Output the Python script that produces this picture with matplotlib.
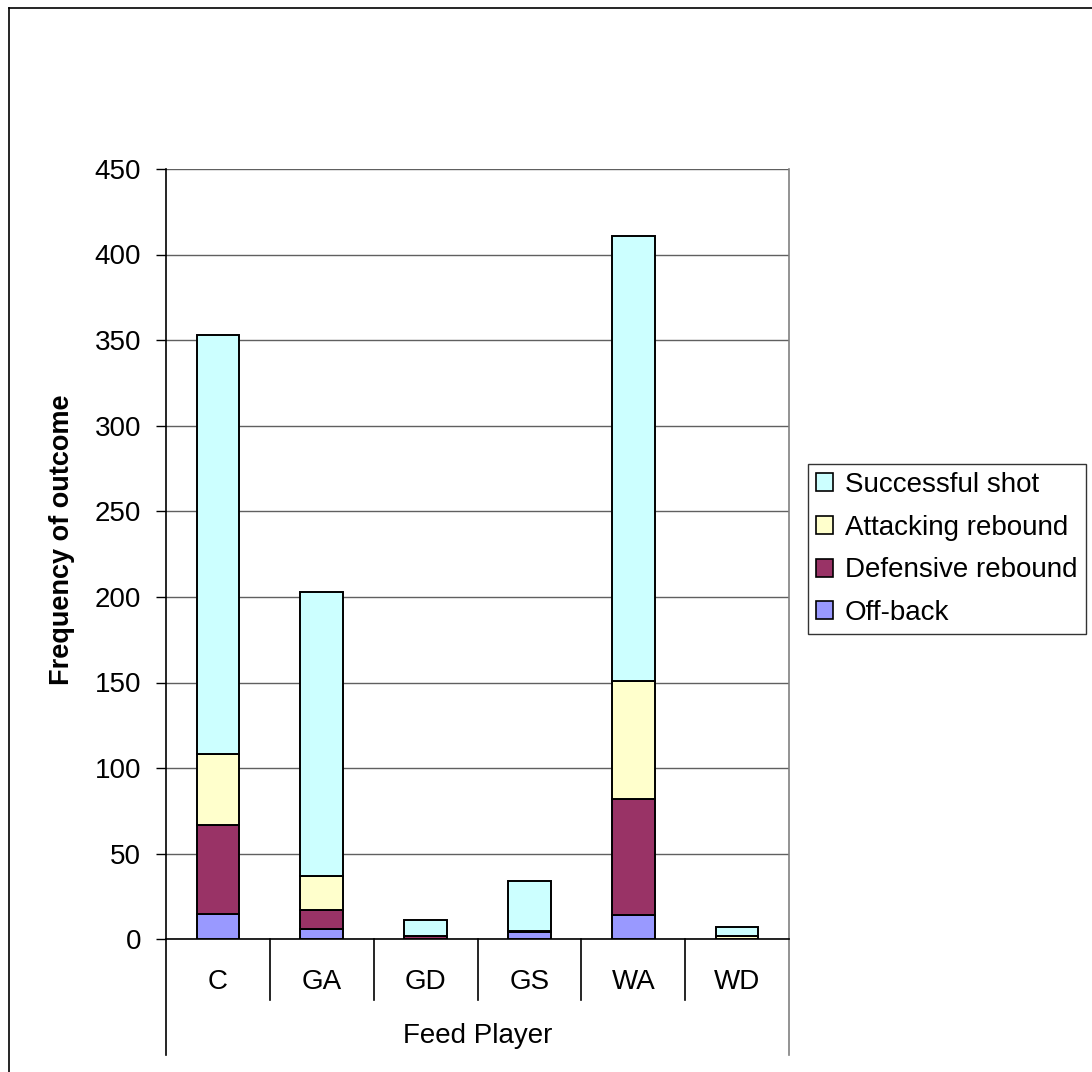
import matplotlib
matplotlib.use("Agg")
import matplotlib.pyplot as plt
from matplotlib.patches import Patch
from matplotlib.lines import Line2D
import numpy as np

plt.rcParams['font.family'] = ['Liberation Sans', 'DejaVu Sans']

# Outcome counts per feed player
players = ["C", "GA", "GD", "GS", "WA", "WD"]
off_back = [15, 6, 0, 4, 14, 0]
defensive_rebound = [52, 11, 2, 1, 68, 0]
attacking_rebound = [41, 20, 0, 0, 69, 2]
successful_shot = [245, 166, 9, 29, 260, 5]

series = [
    ("Off-back", off_back, "#9999FF"),
    ("Defensive rebound", defensive_rebound, "#993366"),
    ("Attacking rebound", attacking_rebound, "#FFFFCC"),
    ("Successful shot", successful_shot, "#CCFFFF"),
]

W, H = 1092, 1072
fig = plt.figure(figsize=(W / 100, H / 100), dpi=100)
ax = fig.add_axes([166 / W, 1 - 939.3 / H, (789 - 166) / W, (939.3 - 168.9) / H])

x = np.arange(len(players))
bottom = np.zeros(len(players))
for name, vals, color in series:
    ax.bar(x, vals, width=0.41, bottom=bottom, color=color,
           edgecolor="black", linewidth=1.4, zorder=3)
    bottom += np.array(vals)

ax.set_xlim(-0.5, len(players) - 0.5)
ax.set_ylim(0, 450)
ax.set_yticks(range(0, 451, 50))
ax.yaxis.grid(True, color="#606060", linewidth=1.0)
ax.set_axisbelow(True)
ax.tick_params(axis="y", direction="out", length=7, width=1, pad=11,
               labelsize=20, colors="black")
ax.set_xticks([])

ax.spines["top"].set_visible(False)
ax.spines["right"].set_color("#808080")
ax.spines["right"].set_linewidth(1.2)
ax.spines["left"].set_color("black")
ax.spines["left"].set_linewidth(1.2)
ax.spines["bottom"].set_color("black")
ax.spines["bottom"].set_linewidth(1.2)

ax.set_ylabel("Frequency of outcome", fontsize=19.5, fontweight="bold")
ax.yaxis.set_label_coords(-0.146, 0.518)

# two-level category axis below the plot
trans = ax.get_xaxis_transform()
for k in range(1, len(players)):
    ax.add_line(Line2D([k - 0.5, k - 0.5], [0, -0.0788], transform=trans,
                       color="black", linewidth=1.2, clip_on=False))
ax.add_line(Line2D([-0.5, -0.5], [0, -0.1502], transform=trans,
                   color="black", linewidth=1.2, clip_on=False))
ax.add_line(Line2D([len(players) - 0.5] * 2, [0, -0.1502], transform=trans,
                   color="#808080", linewidth=1.2, clip_on=False))
for i, p in enumerate(players):
    ax.text(i, -0.0554, p, transform=trans, ha="center", va="center", fontsize=20)
ax.text((len(players) - 1) / 2, -0.1255, "Feed Player", transform=trans,
        ha="center", va="center", fontsize=20)

# legend, top entry first
handles = [Patch(facecolor=c, edgecolor="black", linewidth=1.2, label=n)
           for n, _, c in reversed(series)]
leg = fig.legend(handles=handles, loc="upper left",
                 bbox_to_anchor=(808 / W, 1 - 464 / H), fontsize=20,
                 frameon=True, fancybox=False, edgecolor="black",
                 handlelength=0.61, handleheight=0.61, handletextpad=0.43,
                 labelspacing=0.6, borderpad=0.29, borderaxespad=0)
leg.get_frame().set_linewidth(1.0)

# chart area border
fig.add_artist(Line2D([9 / W, 9 / W], [0, 1 - 8 / H], color="black", linewidth=1.2))
fig.add_artist(Line2D([9 / W, 1], [1 - 8 / H, 1 - 8 / H], color="black", linewidth=1.2))

fig.savefig("out.png", dpi=100, facecolor="white")
